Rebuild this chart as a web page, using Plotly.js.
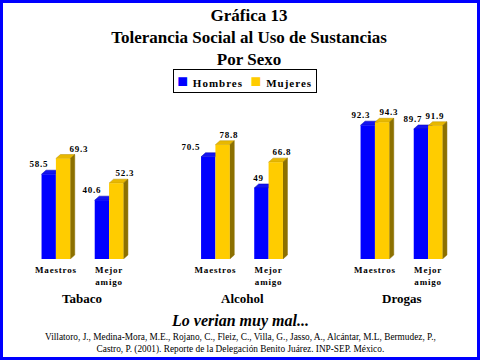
<!DOCTYPE html>
<html>
<head>
<meta charset="utf-8">
<script src="https://cdn.plot.ly/plotly-3.0.1.min.js"></script>
<style>
html,body{margin:0;padding:0;background:#ffffff;}
#frame{width:480px;height:360px;box-sizing:border-box;border:3px solid #0000ff;background:#fff;}
#chart{width:474px;height:354px;}
.xtick text{letter-spacing:0.8px;}
</style>
</head>
<body>
<div id="frame"><div id="chart"></div></div>
<script>
// ---- data ----
const groups = ['Tabaco', 'Alcohol', 'Drogas'];
const categories = ['Maestros', 'Mejor<br>amigo', 'Maestros', 'Mejor<br>amigo', 'Maestros', 'Mejor<br>amigo'];
const hombres = [58.5, 40.6, 70.5, 49, 92.3, 89.7];
const mujeres = [69.3, 52.3, 78.8, 66.8, 94.3, 91.9];
const seriesNames = ['Hombres', 'Mujeres'];
const titleText = 'Gráfica 13<br>Tolerancia Social al Uso de Sustancias<br>Por Sexo';
const captionText = '<i>Lo verian muy mal...</i>';
const sourceText = 'Villatoro, J., Medina-Mora, M.E., Rojano, C., Fleiz, C., Villa, G., Jasso, A., Alcántar, M.L, Bermudez, P.,<br>Castro, P. (2001). Reporte de la Delegación Benito Juárez. INP-SEP. México.';

// ---- style / layout ----
const BLUE = '#0000ff', YELLOW = '#ffcc00';
const BLUE_TOP = '#1414f0', YELLOW_TOP = '#e8b800', YELLOW_SIDE = '#8c7000';
const SERIF = '"Liberation Serif", "Times New Roman", serif';
const W = 474, H = 354;
const M = {l: 21, r: 17, t: 111, b: 98};
const XR = [-0.6, 7.6], YR = [0, 100];
const BW = 0.27;
const PW = W - M.l - M.r, PH = H - M.t - M.b;
const pxX = PW / (XR[1] - XR[0]);
const pxY = PH / (YR[1] - YR[0]);
const DX = 4.5 / pxX, DY = 4 / pxY;
// label x-shifts (pixels) for the value labels
const shiftH = [-10, -10, -17, -2, -7, -8];
const shiftM = [16, 9, 6, 6, 7, 0];

const pos = categories.map((c, i) => i + Math.floor(i / 2));
const colors = [BLUE, YELLOW];

const traces = [
  {type: 'bar', name: seriesNames[0], x: pos, y: hombres, width: BW, offset: -BW,
   marker: {color: BLUE, line: {width: 0}}, hoverinfo: 'none'},
  {type: 'bar', name: seriesNames[1], x: pos, y: mujeres, width: BW, offset: 0,
   marker: {color: YELLOW, line: {width: 0}}, hoverinfo: 'none'}
];

const shapes = [];
function topFace(x0, x1, v, color, line) {
  return {type: 'path', xref: 'x', yref: 'y', layer: 'below',
    path: `M${x0},${v} L${x1},${v} L${x1 + DX},${v + DY} L${x0 + DX},${v + DY} Z`,
    fillcolor: color, line: {color: line, width: 0.5}};
}
pos.forEach((p, i) => {
  shapes.push(topFace(p - BW, p, hombres[i], BLUE_TOP, '#0000b0'));
  shapes.push(topFace(p, p + BW, mujeres[i], YELLOW_TOP, '#b89000'));
  const x1 = p + BW;
  shapes.push({type: 'path', xref: 'x', yref: 'y', layer: 'below',
    path: `M${x1},0 L${x1 + DX},${DY} L${x1 + DX},${mujeres[i] + DY} L${x1},${mujeres[i]} Z`,
    fillcolor: YELLOW_SIDE, line: {color: YELLOW_SIDE, width: 0.5}});
});

const annotations = [];
const labelFont = {family: SERIF, size: 9, color: '#000', weight: 'bold'};
pos.forEach((p, i) => {
  annotations.push({x: p - BW / 2, y: hombres[i], xref: 'x', yref: 'y', text: String(hombres[i]),
    showarrow: false, yanchor: 'bottom', yshift: 3, xshift: shiftH[i], font: labelFont});
  annotations.push({x: p + BW / 2, y: mujeres[i], xref: 'x', yref: 'y', text: String(mujeres[i]),
    showarrow: false, yanchor: 'bottom', yshift: 3, xshift: shiftM[i], font: labelFont});
});
const nLabels = annotations.length;
groups.forEach((g, k) => {
  annotations.push({x: (pos[2 * k] + pos[2 * k + 1]) / 2, y: (M.t + PH - 295) / PH, xref: 'x', yref: 'paper',
    text: g, showarrow: false, yanchor: 'middle',
    font: {family: SERIF, size: 13, color: '#000', weight: 'bold'}});
});
const noteX = (237 - M.l) / PW;
annotations.push({x: noteX, y: (M.t + PH - 318) / PH, xref: 'paper', yref: 'paper', text: captionText,
  showarrow: false, yanchor: 'middle', xanchor: 'center',
  font: {family: SERIF, size: 16, color: '#000', weight: 'bold'}});
annotations.push({x: noteX, y: (M.t + PH - 340.5) / PH, xref: 'paper', yref: 'paper', text: sourceText,
  showarrow: false, yanchor: 'middle', xanchor: 'center',
  font: {family: SERIF, size: 9.3, color: '#000'}});
// legend box
const NB = '\u00a0';
const legendText = seriesNames.map((n, k) =>
  `<span style="color:${colors[k]};font-size:18px">■</span>${NB}${n}`).join(NB + NB);
annotations.push({x: (241.5 - M.l) / PW, y: (M.t + PH - 77.5) / PH, xref: 'paper', yref: 'paper',
  text: legendText, showarrow: false, xanchor: 'center', yanchor: 'middle',
  width: 136, height: 16, align: 'center', valign: 'middle',
  bordercolor: '#000', borderwidth: 1, borderpad: 3, bgcolor: '#fff',
  font: {family: SERIF, size: 11, color: '#000', weight: 'bold'}});
const legendIdx = annotations.length - 1;

const layout = {
  width: W, height: H,
  margin: M,
  paper_bgcolor: '#ffffff', plot_bgcolor: '#ffffff',
  barmode: 'group',
  showlegend: false,
  title: {text: titleText, x: 246 / W, xref: 'container', xanchor: 'center',
    y: 1 - 18 / H, yref: 'container', yanchor: 'top',
    font: {family: SERIF, size: 17, color: '#000', weight: 'bold'}},
  xaxis: {range: XR, tickvals: pos, ticktext: categories, showgrid: false, zeroline: false,
    showline: false, ticks: '', fixedrange: true, ticklabelstandoff: 4,
    tickfont: {family: SERIF, size: 9, color: '#000', weight: 'bold'}},
  yaxis: {range: YR, visible: false, fixedrange: true},
  shapes: shapes,
  annotations: annotations
};

Plotly.newPlot('chart', traces, layout, {displayModeBar: false, staticPlot: true}).then(() => {
  document.querySelectorAll('#chart .annotation').forEach(g => {
    const idx = +g.getAttribute('data-index');
    if (idx < nLabels) g.querySelectorAll('text').forEach(t => t.style.letterSpacing = '0.8px');
    if (idx === legendIdx) g.querySelectorAll('text').forEach(t => t.style.letterSpacing = '1px');
  });
});
</script>
</body>
</html>
